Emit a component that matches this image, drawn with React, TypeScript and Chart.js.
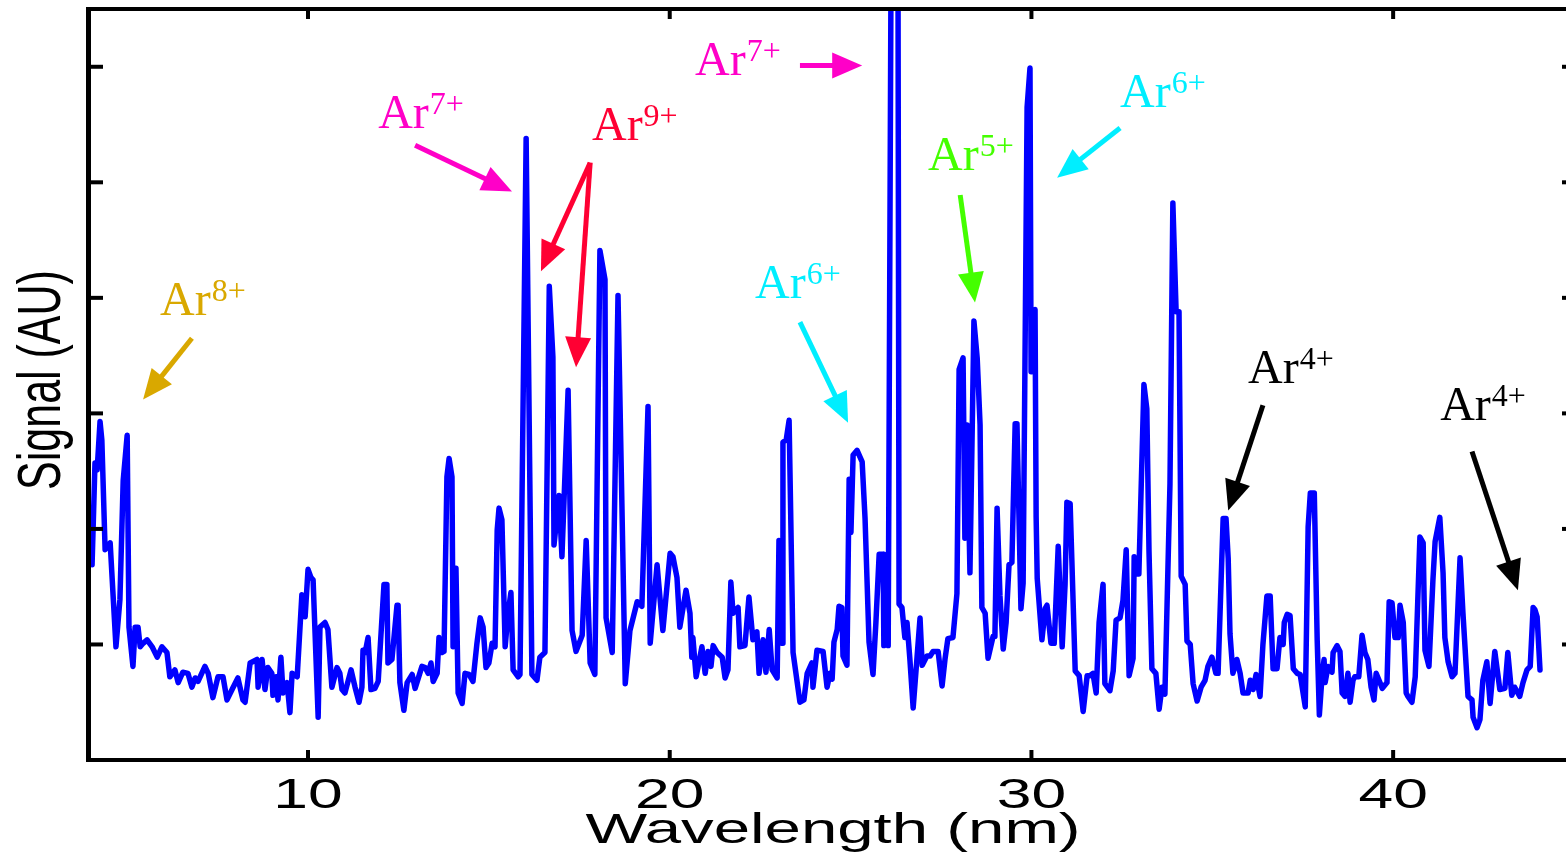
import React, { useEffect, useRef } from "react";
import { Chart, registerables } from "chart.js";

Chart.register(...registerables);

// ---- data (wavelength in nm, signal in arbitrary units) ----
const wavelength = [
  4.00, 4.03, 4.11, 4.17, 4.25, 4.30, 4.39, 4.53, 4.69, 4.80, 4.89, 5.00, 5.05, 5.16, 5.22, 5.30, 5.36, 5.44, 5.55, 5.69,
  5.83, 5.96, 6.10, 6.18, 6.32, 6.41, 6.54, 6.68, 6.79, 6.88, 6.96, 7.15, 7.24, 7.37, 7.51, 7.65, 7.76, 7.90, 8.06, 8.20,
  8.26, 8.40, 8.59, 8.62, 8.73, 8.81, 8.89, 9.00, 9.03, 9.12, 9.17, 9.25, 9.31, 9.42, 9.50, 9.56, 9.70, 9.83, 9.92, 10.00,
  10.08, 10.14, 10.28, 10.33, 10.47, 10.55, 10.66, 10.80, 10.88, 10.94, 11.02, 11.19, 11.30, 11.41, 11.49, 11.52, 11.58, 11.66, 11.74, 11.85,
  11.94, 12.10, 12.18, 12.21, 12.32, 12.46, 12.49, 12.54, 12.65, 12.74, 12.88, 12.96, 13.15, 13.24, 13.32, 13.40, 13.46, 13.57, 13.62, 13.70,
  13.76, 13.84, 13.90, 13.98, 14.01, 14.09, 14.15, 14.26, 14.34, 14.45, 14.56, 14.67, 14.76, 14.84, 14.92, 15.00, 15.09, 15.17, 15.23, 15.28,
  15.36, 15.45, 15.53, 15.61, 15.67, 15.81, 15.86, 16.03, 16.19, 16.33, 16.41, 16.55, 16.67, 16.77, 16.80, 16.94, 17.02, 17.19, 17.30, 17.41,
  17.58, 17.69, 17.80, 17.93, 18.07, 18.21, 18.24, 18.41, 18.57, 18.77, 18.90, 19.10, 19.23, 19.40, 19.46, 19.65, 19.81, 20.01, 20.09, 20.20,
  20.28, 20.45, 20.56, 20.61, 20.64, 20.73, 20.89, 20.98, 21.06, 21.14, 21.20, 21.31, 21.45, 21.53, 21.61, 21.69, 21.75, 21.89, 21.94, 22.08,
  22.19, 22.30, 22.41, 22.47, 22.58, 22.66, 22.75, 22.83, 22.97, 23.02, 23.11, 23.13, 23.22, 23.30, 23.41, 23.60, 23.71, 23.80, 23.93, 23.96,
  24.07, 24.24, 24.35, 24.43, 24.49, 24.54, 24.63, 24.68, 24.76, 24.79, 24.90, 24.96, 25.01, 25.07, 25.18, 25.32, 25.40, 25.51, 25.62, 25.70,
  25.79, 25.90, 25.92, 25.95, 26.04, 26.12, 26.31, 26.34, 26.42, 26.50, 26.56, 26.64, 26.73, 26.84, 26.92, 26.98, 27.11, 27.20, 27.28, 27.42,
  27.53, 27.61, 27.69, 27.83, 27.94, 28.00, 28.11, 28.16, 28.22, 28.30, 28.41, 28.50, 28.58, 28.63, 28.72, 28.80, 28.94, 28.99, 29.05, 29.13,
  29.22, 29.30, 29.38, 29.46, 29.55, 29.60, 29.71, 29.77, 29.88, 29.96, 29.99, 30.10, 30.13, 30.16, 30.29, 30.38, 30.43, 30.54, 30.63, 30.74,
  30.85, 30.93, 30.98, 31.07, 31.21, 31.32, 31.43, 31.54, 31.62, 31.70, 31.79, 31.87, 31.98, 32.03, 32.17, 32.26, 32.34, 32.45, 32.53, 32.62,
  32.70, 32.81, 32.84, 32.92, 32.97, 33.11, 33.19, 33.25, 33.33, 33.44, 33.53, 33.61, 33.69, 33.83, 33.91, 34.00, 34.08, 34.14, 34.25, 34.30,
  34.39, 34.47, 34.58, 34.69, 34.80, 34.88, 34.99, 35.10, 35.16, 35.30, 35.38, 35.44, 35.49, 35.57, 35.68, 35.77, 35.85, 35.99, 36.05, 36.13,
  36.21, 36.32, 36.40, 36.51, 36.60, 36.68, 36.79, 36.87, 36.96, 36.99, 37.07, 37.15, 37.24, 37.35, 37.43, 37.57, 37.65, 37.71, 37.82, 37.90,
  37.96, 38.04, 38.09, 38.12, 38.20, 38.31, 38.34, 38.45, 38.53, 38.59, 38.67, 38.75, 38.81, 38.89, 38.94, 39.05, 39.14, 39.22, 39.30, 39.39,
  39.47, 39.53, 39.61, 39.70, 39.83, 39.89, 39.97, 40.05, 40.14, 40.19, 40.28, 40.36, 40.41, 40.52, 40.61, 40.74, 40.83, 40.88, 40.99, 41.10,
  41.16, 41.29, 41.38, 41.43, 41.52, 41.63, 41.71, 41.85, 41.93, 42.07, 42.18, 42.21, 42.32, 42.40, 42.48, 42.59, 42.68, 42.81, 42.95, 43.09,
  43.17, 43.28, 43.36, 43.50, 43.59, 43.70, 43.79, 43.87, 43.92, 43.98, 44.06,
];

const signal = [
  2.16, 1.69, 2.57, 2.51, 2.93, 2.77, 1.82, 1.88, 0.98, 1.39, 2.42, 2.81, 1.15, 0.81, 1.15, 1.15, 0.98, 1.01, 1.04, 0.98,
  0.89, 0.98, 0.93, 0.72, 0.78, 0.67, 0.76, 0.75, 0.63, 0.71, 0.68, 0.81, 0.75, 0.54, 0.72, 0.72, 0.52, 0.61, 0.71, 0.52,
  0.50, 0.84, 0.87, 0.63, 0.87, 0.61, 0.80, 0.75, 0.56, 0.72, 0.52, 0.89, 0.58, 0.67, 0.41, 0.75, 0.72, 1.43, 1.24, 1.65,
  1.58, 1.56, 0.37, 1.15, 1.19, 1.13, 0.63, 0.80, 0.75, 0.61, 0.58, 0.78, 0.63, 0.50, 0.63, 0.95, 0.93, 1.06, 0.61, 0.62,
  0.68, 1.52, 1.52, 0.84, 0.87, 1.34, 1.34, 0.67, 0.43, 0.67, 0.74, 0.62, 0.81, 0.80, 0.75, 0.84, 0.68, 0.75, 1.06, 0.93,
  0.94, 2.45, 2.61, 2.45, 0.98, 1.66, 0.58, 0.49, 0.75, 0.74, 0.68, 1.01, 1.23, 1.15, 0.80, 0.84, 1.01, 0.98, 1.99, 2.18,
  2.08, 0.98, 1.27, 1.45, 0.78, 0.72, 0.74, 5.38, 0.74, 0.69, 0.89, 0.93, 4.10, 3.49, 1.86, 2.29, 1.76, 3.20, 1.12, 0.94,
  1.08, 1.90, 0.84, 0.74, 4.41, 4.16, 1.23, 0.93, 4.02, 0.66, 1.12, 1.37, 1.33, 3.06, 1.01, 1.69, 1.12, 1.79, 1.76, 1.58,
  1.15, 1.47, 1.27, 0.89, 1.06, 0.72, 0.98, 0.75, 0.94, 0.81, 0.99, 0.93, 0.89, 0.71, 0.78, 1.54, 1.27, 1.32, 0.98, 0.99,
  1.41, 1.04, 1.11, 0.75, 1.04, 0.76, 1.13, 0.78, 0.71, 1.90, 1.01, 2.75, 2.77, 2.94, 0.93, 0.50, 0.52, 0.75, 0.84, 0.63,
  0.95, 0.94, 0.63, 0.75, 0.70, 1.02, 1.13, 1.33, 1.32, 0.90, 0.82, 2.43, 1.97, 2.64, 2.68, 2.58, 2.09, 1.02, 0.74, 1.19,
  1.78, 1.78, 0.99, 1.64, 0.99, 7.00, 7.00, 1.35, 1.32, 1.06, 1.19, 0.87, 0.45, 0.90, 1.23, 0.82, 0.90, 0.90, 0.94, 0.94,
  0.64, 0.87, 1.05, 1.06, 1.44, 3.38, 3.48, 1.92, 2.90, 1.62, 3.80, 3.48, 2.90, 1.32, 1.27, 0.88, 1.07, 1.07, 2.18, 1.42,
  0.96, 1.19, 1.69, 1.71, 2.91, 2.91, 1.31, 1.53, 5.65, 5.99, 3.36, 3.90, 2.10, 1.57, 1.04, 1.31, 1.34, 1.01, 1.01, 1.85,
  0.98, 1.52, 2.23, 2.22, 0.77, 0.73, 0.42, 0.73, 0.73, 0.75, 0.58, 1.19, 1.52, 0.66, 0.60, 0.77, 1.21, 1.23, 1.38, 1.82,
  0.73, 0.88, 1.76, 1.61, 1.61, 3.25, 3.04, 1.81, 0.79, 0.75, 0.44, 0.63, 0.57, 2.39, 4.82, 3.88, 3.88, 1.59, 1.52, 1.03,
  1.00, 0.66, 0.51, 0.63, 0.69, 0.81, 0.89, 0.75, 0.75, 2.09, 2.09, 1.74, 1.09, 0.75, 0.87, 0.75, 0.58, 0.58, 0.69, 0.61,
  0.74, 0.55, 1.00, 1.42, 1.42, 0.79, 0.79, 1.06, 1.00, 1.19, 1.26, 1.25, 0.79, 0.75, 0.74, 0.46, 2.02, 2.31, 2.31, 1.04,
  0.39, 0.75, 0.87, 0.67, 0.81, 0.76, 0.93, 0.99, 0.94, 0.58, 0.55, 0.75, 0.50, 0.69, 0.72, 0.72, 1.08, 0.93, 0.87, 0.63,
  0.52, 0.75, 0.69, 0.62, 0.67, 1.37, 1.36, 1.06, 1.06, 1.34, 1.19, 0.58, 0.55, 0.50, 0.72, 1.93, 1.88, 0.95, 0.81, 1.56,
  1.89, 2.10, 1.62, 1.06, 0.85, 0.72, 0.75, 1.75, 1.27, 0.55, 0.52, 0.37, 0.28, 0.35, 0.69, 0.85, 0.49, 0.94, 0.61, 0.62,
  0.93, 0.56, 0.63, 0.55, 0.67, 0.78, 0.81, 1.32, 1.30, 1.24, 0.78,
];

const xTicks = [10, 20, 30, 40];
const yTicks = [1, 2, 3, 4, 5, 6];
const xTitle = "Wavelength (nm)";
const yTitle = "Signal (AU)";

// ---- annotations (ion labels + arrows), positions in data units ----
const annIons = ["8+", "7+", "9+", "7+", "6+", "5+", "6+", "4+", "4+"];
const annColors = ["#d9a800", "#ff00c8", "#ff0033", "#ff00c8", "#00eeff", "#44ff00", "#00eeff", "#000000", "#000000"];
const annTextX = [5.91, 11.94, 17.85, 20.70, 32.45, 27.14, 22.36, 35.99, 41.30];
const annTextY = [3.85, 5.47, 5.37, 5.93, 5.65, 5.11, 4.00, 3.26, 2.94];

const arrowAnn = [0, 1, 2, 2, 3, 4, 5, 6, 7, 8];
const arrowX0 = [6.79, 12.96, 17.80, 17.80, 23.60, 32.45, 28.03, 23.60, 36.40, 42.18];
const arrowY0 = [3.65, 5.32, 5.17, 5.17, 6.01, 5.47, 4.89, 3.79, 3.07, 2.67];
const arrowX1 = [5.44, 15.64, 16.44, 17.41, 25.32, 30.71, 28.44, 24.93, 35.44, 43.45];
const arrowY1 = [3.12, 4.92, 4.23, 3.40, 6.01, 5.04, 3.96, 2.92, 2.16, 1.47];

const CANVAS_W = 1580;
const CANVAS_H = 859;
const SANS = '"Liberation Sans", Arial, sans-serif';
const SERIF = '"Liberation Serif", "Times New Roman", serif';

function drawArrow(ctx: CanvasRenderingContext2D, x0: number, y0: number, x1: number, y1: number, color: string) {
  const headLen = 30;
  const headHalf = 13;
  const ang = Math.atan2(y1 - y0, x1 - x0);
  const bx = x1 - headLen * Math.cos(ang);
  const by = y1 - headLen * Math.sin(ang);
  ctx.save();
  ctx.strokeStyle = color;
  ctx.fillStyle = color;
  ctx.lineWidth = 5;
  ctx.lineCap = "butt";
  ctx.beginPath();
  ctx.moveTo(x0, y0);
  ctx.lineTo(bx + 2 * Math.cos(ang), by + 2 * Math.sin(ang));
  ctx.stroke();
  ctx.beginPath();
  ctx.moveTo(x1, y1);
  ctx.lineTo(bx + headHalf * Math.sin(ang), by - headHalf * Math.cos(ang));
  ctx.lineTo(bx - headHalf * Math.sin(ang), by + headHalf * Math.cos(ang));
  ctx.closePath();
  ctx.fill();
  ctx.restore();
}

function drawStretched(ctx: CanvasRenderingContext2D, text: string, x: number, y: number, font: string, sx: number) {
  ctx.save();
  ctx.font = font;
  ctx.textBaseline = "alphabetic";
  ctx.textAlign = "left";
  const w = ctx.measureText(text).width * sx;
  ctx.translate(x - w / 2, y);
  ctx.scale(sx, 1);
  ctx.fillText(text, 0, 0);
  ctx.restore();
}

const framePlugin = {
  id: "spectrumFrame",
  afterDraw(chart: any) {
    const ctx: CanvasRenderingContext2D = chart.ctx;
    const { left, right, top, bottom } = chart.chartArea;
    const xs = chart.scales.x;
    const ys = chart.scales.y;

    ctx.save();
    ctx.strokeStyle = "#000";
    ctx.fillStyle = "#000";
    ctx.lineCap = "butt";

    // frame
    ctx.lineWidth = 5;
    ctx.beginPath();
    ctx.moveTo(left - 2.5, top - 2);
    ctx.lineTo(left - 2.5, bottom + 2);
    ctx.stroke();
    ctx.beginPath();
    ctx.moveTo(right + 2.5, top - 2);
    ctx.lineTo(right + 2.5, bottom + 2);
    ctx.stroke();
    ctx.lineWidth = 4;
    ctx.beginPath();
    ctx.moveTo(left - 5, bottom);
    ctx.lineTo(right + 5, bottom);
    ctx.stroke();
    ctx.beginPath();
    ctx.moveTo(left - 5, top);
    ctx.lineTo(right + 5, top);
    ctx.stroke();

    // inward ticks
    ctx.lineWidth = 4;
    for (const v of yTicks) {
      const py = ys.getPixelForValue(v);
      ctx.beginPath();
      ctx.moveTo(left, py);
      ctx.lineTo(left + 12, py);
      ctx.stroke();
      ctx.beginPath();
      ctx.moveTo(right, py);
      ctx.lineTo(right - 12, py);
      ctx.stroke();
    }
    for (const v of xTicks) {
      const px = xs.getPixelForValue(v);
      ctx.beginPath();
      ctx.moveTo(px, top);
      ctx.lineTo(px, top + 10);
      ctx.stroke();
      ctx.beginPath();
      ctx.moveTo(px, bottom);
      ctx.lineTo(px, bottom - 10);
      ctx.stroke();
    }

    // tick labels
    for (const v of xTicks) {
      const px = xs.getPixelForValue(v);
      drawStretched(ctx, String(v), px, bottom + 48, "43px " + SANS, 1.45);
    }

    // axis titles
    drawStretched(ctx, xTitle, 833, bottom + 83, "43px " + SANS, 1.52);

    ctx.save();
    ctx.translate(60, 380);
    ctx.rotate(-Math.PI / 2);
    ctx.scale(1, 1.4);
    ctx.font = "43px " + SANS;
    ctx.textAlign = "center";
    ctx.textBaseline = "alphabetic";
    ctx.fillText(yTitle, 0, 0);
    ctx.restore();

    // annotations
    for (let i = 0; i < annIons.length; i++) {
      const tx = xs.getPixelForValue(annTextX[i]);
      const ty = ys.getPixelForValue(annTextY[i]);
      ctx.fillStyle = annColors[i];
      ctx.textAlign = "left";
      ctx.textBaseline = "alphabetic";
      ctx.font = "48px " + SERIF;
      ctx.fillText("Ar", tx, ty);
      const w = ctx.measureText("Ar").width;
      ctx.font = "32px " + SERIF;
      ctx.fillText(annIons[i], tx + w + 1, ty - 14);
    }
    for (let j = 0; j < arrowAnn.length; j++) {
      drawArrow(
        ctx,
        xs.getPixelForValue(arrowX0[j]),
        ys.getPixelForValue(arrowY0[j]),
        xs.getPixelForValue(arrowX1[j]),
        ys.getPixelForValue(arrowY1[j]),
        annColors[arrowAnn[j]]
      );
    }
    ctx.restore();
  },
};

export default function App() {
  const canvasRef = useRef<HTMLCanvasElement | null>(null);

  useEffect(() => {
    const canvas = canvasRef.current;
    if (!canvas) return;
    const points = wavelength.map((x, i) => ({ x, y: signal[i] }));
    const chart = new Chart(canvas, {
      type: "line",
      data: {
        datasets: [
          {
            data: points,
            borderColor: "#0000ff",
            borderWidth: 5.5,
            borderJoinStyle: "round",
            borderCapStyle: "round",
            pointRadius: 0,
            tension: 0,
            fill: false,
            clip: 0,
          },
        ],
      },
      options: {
        responsive: false,
        animation: false,
        devicePixelRatio: 1,
        layout: { padding: { left: 91, right: CANVAS_W - 1574, top: 9, bottom: CANVAS_H - 760 } },
        plugins: { legend: { display: false }, tooltip: { enabled: false }, title: { display: false } },
        scales: {
          x: { type: "linear", min: 4, max: 45, display: false },
          y: { type: "linear", min: 0, max: 6.5, display: false },
        },
      },
      plugins: [framePlugin],
    });
    return () => chart.destroy();
  }, []);

  return (
    <div style={{ position: "fixed", left: 0, top: 0, width: 1566, height: 859, overflow: "hidden", background: "#fff" }}>
      <canvas ref={canvasRef} width={CANVAS_W} height={CANVAS_H} style={{ display: "block", width: CANVAS_W, height: CANVAS_H }} />
    </div>
  );
}
